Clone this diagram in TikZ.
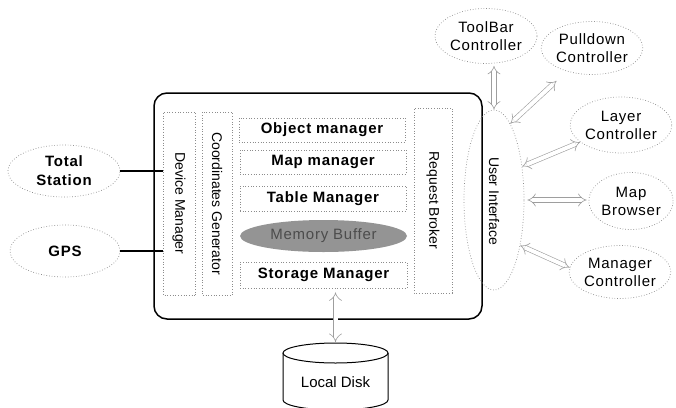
\documentclass[tikz,border=0pt]{standalone}
\usepackage{fontspec}
\setmainfont{Liberation Sans}
\newfontfamily\spcfont[LetterSpace=5]{Liberation Sans}
\usetikzlibrary{shapes.geometric,arrows.meta}
\begin{document}
\begin{tikzpicture}[x=1pt,y=-1pt,
  box/.style={draw=black!45, dotted, line width=0.7pt, rectangle, inner sep=0pt},
  oval/.style={draw=black!45, dotted, line width=0.7pt, ellipse, inner sep=0pt, align=center},
  bl/.style={font=\fontsize{15}{19}\spcfont\bfseries},
  rl/.style={font=\fontsize{14}{17}\selectfont},
  cl/.style={font=\fontsize{15}{18}\spcfont},
  dar/.style={draw=black!38, line width=0.6pt, double=white, double distance=4pt, {Implies[length=6pt]}-{Implies[length=6pt]}},
  conn/.style={draw=black, line width=1.2pt}
]
\useasboundingbox[fill=white] (0,0) rectangle (676,407);

% main frame
\node[draw=black, line width=1.5pt, rounded corners=13pt, minimum width=328pt, minimum height=226pt] (main) at (318,206) {};

% user interface
\node[oval, minimum width=60pt, minimum height=180pt] (ui) at (494,200) {};
\node[rl, rotate=-90] (uit) at (494,201) {User Interface};

% inner blocks
\node[box, rl, rotate=-90, minimum width=183pt, minimum height=32pt] (dev) at (179,203.5) {Device Manager};
\node[box, rl, rotate=-90, minimum width=183pt, minimum height=30pt] (coord) at (217,203.5) {Coordinates Generator};
\node[box, bl, minimum width=166pt, minimum height=24pt] (obj) at (322,130) {Object manager};
\node[box, bl, minimum width=166pt, minimum height=24pt] (map) at (323,162) {Map manager};
\node[box, bl, minimum width=166pt, minimum height=25pt] (table) at (323,198.5) {Table Manager};
\node[ellipse, fill=black!42, inner sep=0pt, minimum width=167pt, minimum height=32pt, text=black!70, font=\fontsize{15}{18}\spcfont] (mem) at (323.5,236) {Memory Buffer};
\node[box, bl, minimum width=167pt, minimum height=26pt] (stor) at (323.5,275) {Storage Manager};
\node[box, rl, rotate=-90, minimum width=185pt, minimum height=38pt] (req) at (433,200.5) {Request Broker};

% left devices
\node[oval, bl, minimum width=112pt, minimum height=52pt] (ts) at (64,171) {Total\\Station};
\node[oval, bl, minimum width=110pt, minimum height=52pt] (gps) at (65,251) {GPS};
\draw[conn] (ts.east) -- (ts.east -| dev.south);
\draw[conn] (gps.east) -- (gps.east -| dev.south);

% right controllers
\node[oval, cl, minimum width=102pt, minimum height=55pt] (tb) at (486,36) {ToolBar\\Controller};
\node[oval, cl, minimum width=100pt, minimum height=53pt] (pd) at (592,48) {Pulldown\\Controller};
\node[oval, cl, minimum width=92pt, minimum height=56pt] (lc) at (621,125) {Layer\\Controller};
\node[oval, cl, minimum width=82pt, minimum height=57pt] (mb) at (631,201) {Map\\Browser};
\node[oval, cl, minimum width=90pt, minimum height=53pt] (mc) at (620,272) {Manager\\Controller};

\draw[dar, shorten >=2pt] (ui.north) -- (ui.north |- tb.south);
\draw[dar, shorten >=14pt] (ui.78) -- (pd);
\draw[dar] (ui.50) -- (lc);
\draw[dar, shorten <=3pt, shorten >=2pt] (ui.east) -- (ui.east -| mb.west);
\draw[dar] (ui.-60) -- (mc.175);

% local disk
\coordinate (disk) at (335.5,343);
\draw[line width=1pt, fill=white] (283,353) -- (283,400) arc[start angle=180, end angle=0, x radius=52.5, y radius=10] -- (388,353);
\draw[line width=1pt, fill=white] (335.5,353) ellipse [x radius=52.5, y radius=10];
\node[font=\fontsize{15}{18}\selectfont] (dtext) at (335.5,382) {Local Disk};
\draw[dar, shorten <=4pt, shorten >=1pt] (stor.south -| disk) -- (disk);
\end{tikzpicture}
\end{document}
